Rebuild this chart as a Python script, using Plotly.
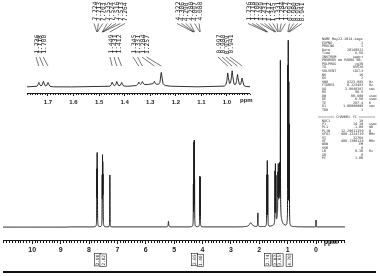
import numpy as np
import plotly.graph_objects as go

W, H = 380, 276

# ---------------- data ----------------
# individual lines: position (ppm), intensity (inset units), half width (ppm)
line_ppm = [7.724, 7.713, 7.703, 7.535, 7.524, 7.516, 7.513, 7.504, 7.264,
            5.20, 4.322, 4.306, 4.290, 4.280, 4.097, 4.080, 2.30, 2.05,
            1.736, 1.718, 1.700, 1.449, 1.431, 1.412, 1.345, 1.331, 1.30,
            1.284, 1.257, 0.997, 0.980, 0.959, 0.941, 0.00]
line_int = [4.6, 5.8, 4.6, 4.0, 5.4, 3.0, 3.0, 4.0, 4.6,
            0.5, 3.4, 7.0, 7.0, 3.5, 4.3, 4.3, 0.35, 1.2,
            4.4, 5.5, 4.4, 4.5, 5.0, 4.0, 3.3, 3.6, 2.4,
            3.3, 13.1, 13.5, 15.75, 12.0, 8.5, 0.6]
line_hw = [0.003, 0.003, 0.003, 0.003, 0.003, 0.003, 0.003, 0.003, 0.003,
           0.010, 0.003, 0.003, 0.003, 0.003, 0.003, 0.003, 0.060, 0.006,
           0.003, 0.003, 0.003, 0.003, 0.003, 0.003, 0.003, 0.003, 0.050,
           0.003, 0.003, 0.003, 0.003, 0.003, 0.003, 0.003]

# peak-pick labels
top_groups = [[7.724, 7.713, 7.703, 7.535, 7.524, 7.516, 7.513, 7.264],
              [4.322, 4.306, 4.290, 4.280, 4.097, 4.080],
              [1.736, 1.718, 1.700, 1.449, 1.431, 1.412, 1.345, 1.331,
               1.284, 1.257, 0.997, 0.980, 0.959, 0.941]]
inset_groups = [[1.736, 1.718, 1.700], [1.449, 1.431, 1.412],
                [1.345, 1.331, 1.284, 1.257], [0.997, 0.980, 0.959, 0.941]]

# integrals
integ_ppm = [7.71, 7.52, 4.30, 4.09, 1.72, 1.43, 1.29, 0.96]
integ_val = ["2.00", "2.02", "2.05", "1.40", "2.74", "2.87", "3.05", "4.70"]

main_ticks = [10, 9, 8, 7, 6, 5, 4, 3, 2, 1, 0]
inset_ticks = [1.7, 1.6, 1.5, 1.4, 1.3, 1.2, 1.1, 1.0]

params_a = [("NAME", "May22-2014-kaga", ""), ("EXPNO", "1", ""), ("PROCNO", "1", ""),
            ("Date_", "20140522", ""), ("Time", "8.58", ""), ("INSTRUM", "spect", ""),
            ("PROBHD", "5 mm PABBO BB-", ""), ("PULPROG", "zg30", ""), ("TD", "65536", ""),
            ("SOLVENT", "CDCl3", ""), ("NS", "16", ""), ("DS", "2", ""),
            ("SWH", "8223.685", "Hz"), ("FIDRES", "0.125483", "Hz"),
            ("AQ", "3.9846387", "sec"), ("RG", "90.5", ""), ("DW", "60.800", "usec"),
            ("DE", "6.50", "usec"), ("TE", "297.4", "K"), ("D1", "1.00000000", "sec"),
            ("TD0", "1", "")]
params_b = [("NUC1", "1H", ""), ("P1", "14.10", "usec"), ("PL1", "-1.00", "dB"),
            ("PL1W", "12.29612350", "W"), ("SFO1", "400.1324710", "MHz"),
            ("SI", "32768", ""), ("SF", "400.1300128", "MHz"), ("WDW", "EM", ""),
            ("SSB", "0", ""), ("LB", "0.30", "Hz"), ("GB", "0", ""), ("PC", "1.00", "")]

# ---------------- spectrum from the line list ----------------
ppm = np.arange(11.03, -1.02, -0.0008)
spec = np.zeros_like(ppm)
for c, h, w in zip(line_ppm, line_int, line_hw):
    spec += h / (1 + ((ppm - c) / w) ** 2)
m_in = (ppm < 1.79) & (ppm > 0.90)

# ---------------- geometry helpers ----------------
def px(x):
    return x / W

def py(y):
    return 1 - y / H

MX0, MX1, MR0, MR1 = 3, 345, 11.03, -1.02
IX0, IX1, IR0, IR1 = 27, 250, 1.782, 0.910

def main_x(p):
    return MX0 + (MR0 - p) / (MR0 - MR1) * (MX1 - MX0)

def inset_x(p):
    return IX0 + (IR0 - p) / (IR0 - IR1) * (IX1 - IX0)

MAIN_SCALE = 11.5  # px per intensity unit
main_base, main_axis, main_top = 227, 240, 30
INS_BASE, INS_AXIS, INS_TOP = 87, 93, 58

ink = "#1a1a1a"
fig = go.Figure()
fig.add_trace(go.Scatter(x=ppm, y=spec, mode="lines",
                         line=dict(color=ink, width=1, simplify=False),
                         xaxis="x", yaxis="y", hoverinfo="skip"))
fig.add_trace(go.Scatter(x=ppm[m_in], y=spec[m_in], mode="lines",
                         line=dict(color=ink, width=0.9),
                         xaxis="x2", yaxis="y2", hoverinfo="skip"))

shapes = []
ann = []

# peak labels (top)
top_starts = [(94, 4.4), (177, 4.4), (248, 4.15)]
for grp, (x0, dx) in zip(top_groups, top_starts):
    for i, v in enumerate(grp):
        xl = x0 + i * dx
        ann.append(dict(x=px(xl), y=py(23), xref="paper", yref="paper", text=f"{v:.3f}",
                        textangle=-90, showarrow=False, xanchor="center", yanchor="bottom",
                        font=dict(family="DejaVu Sans Mono", size=6.3, color=ink)))
        xp = main_x(v)
        shapes.append(dict(type="line", xref="paper", yref="paper", x0=px(xl), y0=py(23.5),
                           x1=px(xp), y1=py(32), line=dict(color=ink, width=0.6)))

# peak labels (inset)
ins_starts = [(36, 3.6), (110, 4.0), (133, 4.5), (218, 4.0)]
for grp, (x0, dx) in zip(inset_groups, ins_starts):
    for i, v in enumerate(grp):
        xl = x0 + i * dx
        ann.append(dict(x=px(xl), y=py(56), xref="paper", yref="paper", text=f"{v:.3f}",
                        textangle=-90, showarrow=False, xanchor="center", yanchor="bottom",
                        font=dict(family="DejaVu Sans Mono", size=6.3, color=ink)))
        xp = inset_x(v)
        shapes.append(dict(type="line", xref="paper", yref="paper", x0=px(xl), y0=py(57),
                           x1=px(xp), y1=py(66), line=dict(color=ink, width=0.6)))

# integrals below main axis
for i, (p, v) in enumerate(zip(integ_ppm, integ_val)):
    xc = main_x(p)
    ann.append(dict(x=px(xc), y=py(260), xref="paper", yref="paper", text=v, textangle=-90,
                    showarrow=False, xanchor="center", yanchor="middle",
                    font=dict(family="DejaVu Sans Mono", size=4.4, color=ink),
                    bordercolor=ink, borderwidth=0.6, borderpad=0.4, bgcolor="white"))

# ppm labels
ann.append(dict(x=px(340), y=py(248), xref="paper", yref="paper", text="ppm",
                showarrow=False, font=dict(family="Liberation Sans", size=6.5, color=ink,
                                           weight="bold")))
ann.append(dict(x=px(246), y=py(100.5), xref="paper", yref="paper", text="ppm",
                showarrow=False, font=dict(family="Liberation Sans", size=6, color=ink,
                                           weight="bold")))

# parameter block
pf = dict(family="DejaVu Sans Mono", size=3.4, color="#333")
def param_line(y, name, val, unit):
    ann.append(dict(x=px(320), y=py(y), xref="paper", yref="paper", text=name,
                    showarrow=False, xanchor="left", yanchor="middle", font=pf))
    ann.append(dict(x=px(365), y=py(y), xref="paper", yref="paper", text=val,
                    showarrow=False, xanchor="right", yanchor="middle", font=pf))
    if unit:
        ann.append(dict(x=px(367), y=py(y), xref="paper", yref="paper", text=unit,
                        showarrow=False, xanchor="left", yanchor="middle", font=pf))

yy = 39
for n, v, u in params_a:
    param_line(yy, n, v, u)
    yy += 3.55
yy += 3.5
ann.append(dict(x=px(346), y=py(yy), xref="paper", yref="paper",
                text="======== CHANNEL f1 ========", showarrow=False,
                xanchor="center", yanchor="middle", font=pf))
yy += 3.55
for n, v, u in params_b:
    param_line(yy, n, v, u)
    yy += 3.4

# page rule at the bottom
shapes.append(dict(type="line", xref="paper", yref="paper", x0=px(3), x1=px(376),
                   y0=py(272), y1=py(272), line=dict(color="#111", width=2)))

fig.update_layout(
    width=W, height=H, autosize=False,
    margin=dict(l=0, r=0, t=0, b=0),
    paper_bgcolor="white", plot_bgcolor="rgba(0,0,0,0)",
    showlegend=False,
    xaxis=dict(domain=[px(MX0), px(MX1)], range=[MR0, MR1], anchor="y",
               tickvals=main_ticks, ticktext=[str(t) for t in main_ticks],
               ticks="outside", ticklen=3, tickwidth=1, tickcolor=ink,
               showline=True, linecolor=ink, linewidth=1, showgrid=False, zeroline=False,
               minor=dict(dtick=0.1, tick0=0, ticks="outside", ticklen=1.5,
                          tickcolor=ink, tickwidth=0.6, showgrid=False),
               tickfont=dict(family="Liberation Sans", size=7, color=ink, weight="bold")),
    yaxis=dict(domain=[py(main_axis), py(main_top)],
               range=[-(main_axis - main_base) / MAIN_SCALE,
                      (main_base - main_top) / MAIN_SCALE],
               visible=False, anchor="x"),
    xaxis2=dict(domain=[px(IX0), px(IX1)], range=[IR0, IR1], anchor="y2",
                tickvals=inset_ticks, ticktext=[f"{t:.1f}" for t in inset_ticks],
                ticks="outside", ticklen=2.5, tickwidth=1, tickcolor=ink,
                showline=True, linecolor=ink, linewidth=0.8, showgrid=False, zeroline=False,
                minor=dict(dtick=0.01, tick0=0, ticks="outside", ticklen=1.3,
                           tickcolor=ink, tickwidth=0.6, showgrid=False),
                tickfont=dict(family="Liberation Sans", size=6, color=ink, weight="bold")),
    yaxis2=dict(domain=[py(INS_AXIS), py(INS_TOP)],
                range=[-(INS_AXIS - INS_BASE), INS_BASE - INS_TOP],
                visible=False, anchor="x2"),
    shapes=shapes,
    annotations=ann,
)

fig.write_html("out.html",
               post_script="document.body.style.filter='grayscale(1)';")
